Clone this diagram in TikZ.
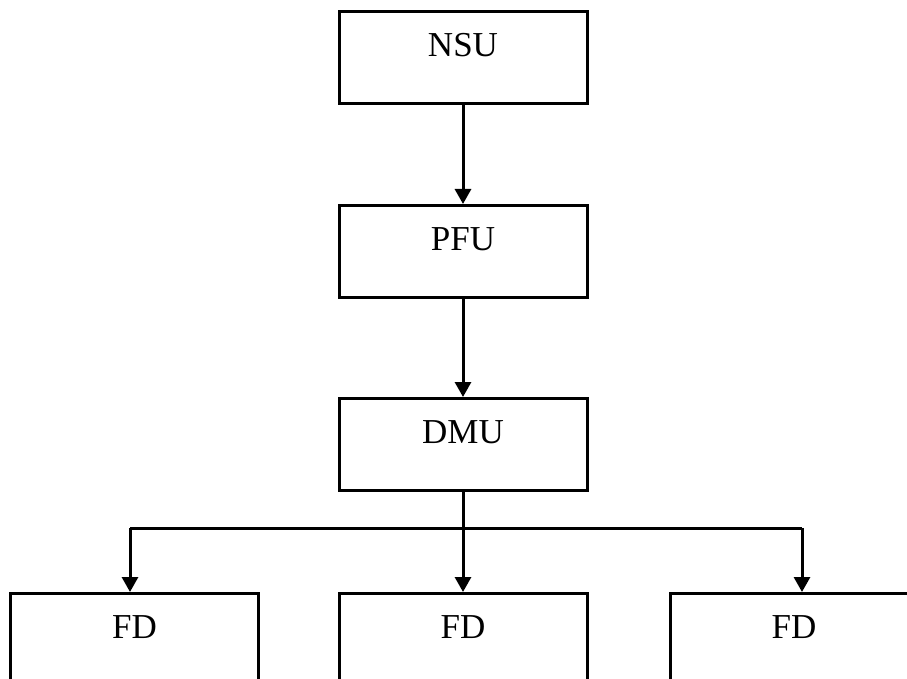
\documentclass[tikz,border=0pt]{standalone}
\usepackage{fontspec}
\setmainfont{Liberation Serif}
\usetikzlibrary{arrows.meta}
\begin{document}
\begin{tikzpicture}[x=1pt,y=-1pt,
  unitbox/.style={draw, line width=3pt, rectangle, anchor=north,
    minimum width=248pt, inner sep=0pt, text height=45pt, text depth=47pt,
    font=\fontsize{35}{42}\selectfont},
  flow/.style={line width=3pt, -{Triangle[length=15pt,width=16pt]}},
  link/.style={line width=3pt}]
\useasboundingbox (0,0) rectangle (907,679);
\clip (0,0) rectangle (907,679);
% chain of units
\node[unitbox] (nsu) at (463,10) {NSU};
\node[unitbox] (pfu) at (463,204) {PFU};
\node[unitbox] (dmu) at (463,397) {DMU};
% field devices
\node[unitbox] (fd1) at (134.5,592) {FD};
\node[unitbox] (fd2) at (463,592) {FD};
\node[unitbox] (fd3) at (794,592) {FD};
% branch points on the distribution bar
\coordinate (bl) at (130,528);
\coordinate (br) at (802,528);
% connectors
\draw[flow] (nsu.south) -- (pfu.north);
\draw[flow] (pfu.south) -- (dmu.north);
\draw[flow] (dmu.south) -- (fd2.north);
\draw[link] (bl) -- (br);
\draw[flow] (bl) -- (bl |- fd1.north);
\draw[flow] (br) -- (br |- fd3.north);
\end{tikzpicture}
\end{document}
